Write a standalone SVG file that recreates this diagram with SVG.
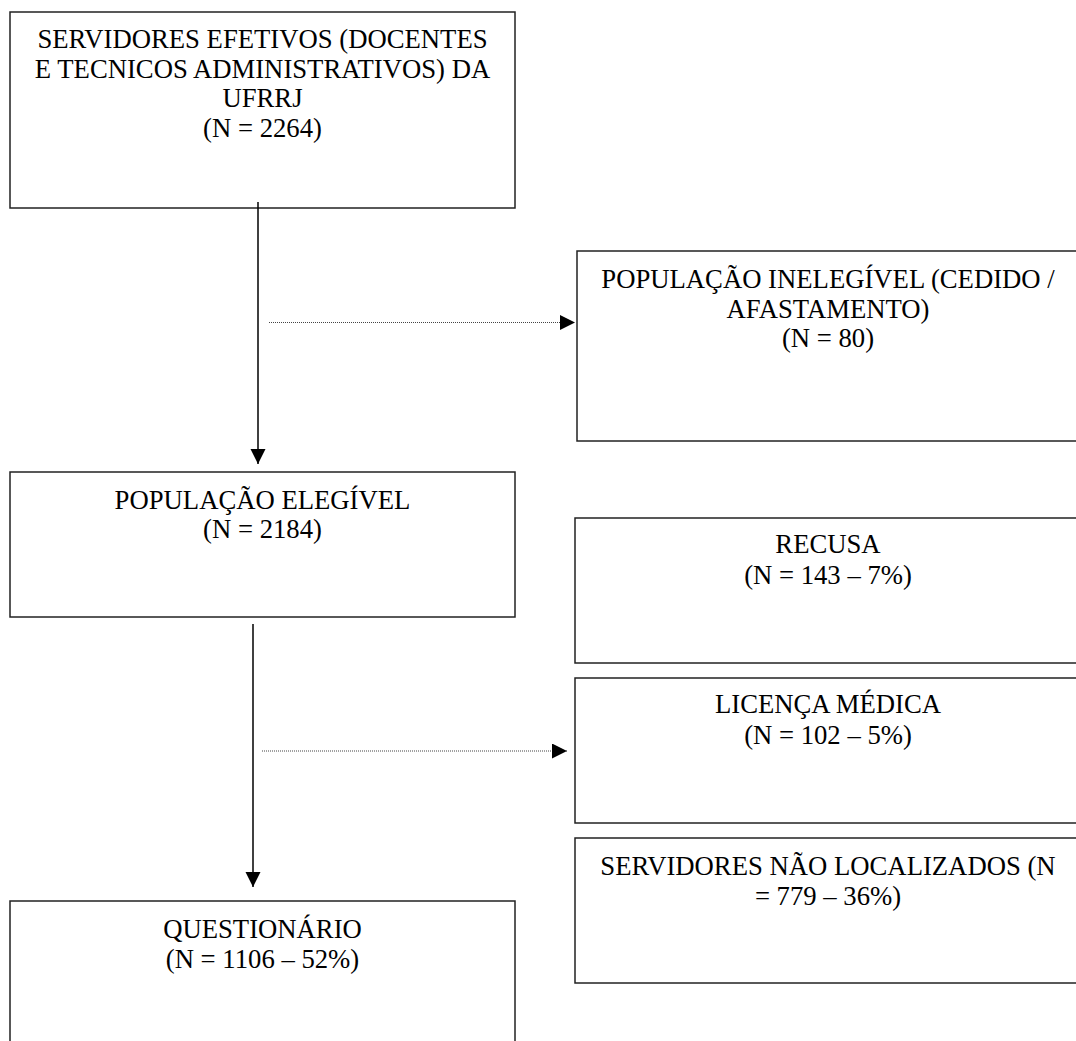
<svg xmlns="http://www.w3.org/2000/svg" width="1076" height="1041" viewBox="0 0 1076 1041">
<style>
.box{fill:#fff;stroke:#222;stroke-width:1.5}
.t{font-family:"Liberation Serif","Times New Roman",serif;font-size:26.7px;fill:#000;text-anchor:middle}
.solid{stroke:#000;stroke-width:1.5;fill:none}
.dot{stroke:#444;stroke-width:1.2;stroke-dasharray:1 1;fill:none}
</style>
<defs>
<marker id="ah" markerUnits="userSpaceOnUse" markerWidth="16" markerHeight="16" refX="15" refY="7.5" orient="auto">
<path d="M0,0 L15,7.5 L0,15 z" fill="#000"/>
</marker>
</defs>
<rect width="1076" height="1041" fill="#fff"/>
<g id="n1">
<rect class="box" x="10" y="12" width="505" height="196"/>
<text class="t" x="262.5" y="48">SERVIDORES EFETIVOS (DOCENTES</text>
<text class="t" x="262.5" y="77.5">E TECNICOS ADMINISTRATIVOS) DA</text>
<text class="t" x="262.5" y="107">UFRRJ</text>
<text class="t" x="262.5" y="136.5">(N = 2264)</text>
</g>
<g id="n2">
<rect class="box" x="577" y="251" width="510" height="190"/>
<text class="t" x="828" y="288">POPULAÇÃO INELEGÍVEL (CEDIDO /</text>
<text class="t" x="828" y="318">AFASTAMENTO)</text>
<text class="t" x="828" y="347">(N = 80)</text>
</g>
<g id="n3">
<rect class="box" x="10" y="472" width="505" height="145"/>
<text class="t" x="262.5" y="509">POPULAÇÃO ELEGÍVEL</text>
<text class="t" x="262.5" y="538">(N = 2184)</text>
</g>
<g id="n4">
<rect class="box" x="575" y="518" width="512" height="145"/>
<text class="t" x="828" y="553">RECUSA</text>
<text class="t" x="828" y="584">(N = 143 – 7%)</text>
</g>
<g id="n5">
<rect class="box" x="575" y="678" width="512" height="145"/>
<text class="t" x="828" y="713">LICENÇA MÉDICA</text>
<text class="t" x="828" y="744">(N = 102 – 5%)</text>
</g>
<g id="n6">
<rect class="box" x="575" y="838" width="512" height="145"/>
<text class="t" x="828" y="875">SERVIDORES NÃO LOCALIZADOS (N</text>
<text class="t" x="828" y="905">= 779 – 36%)</text>
</g>
<g id="n7">
<rect class="box" x="10" y="901" width="505" height="160"/>
<text class="t" x="262.5" y="938">QUESTIONÁRIO</text>
<text class="t" x="262.5" y="968">(N = 1106 – 52%)</text>
</g>
<g id="connectors">
<line class="solid" x1="258" y1="202" x2="258" y2="464" marker-end="url(#ah)"/>
<line class="dot" x1="269" y1="322.5" x2="575" y2="322.5" marker-end="url(#ah)"/>
<line class="solid" x1="253" y1="624" x2="253" y2="887" marker-end="url(#ah)"/>
<line class="dot" x1="262" y1="751" x2="567" y2="751" marker-end="url(#ah)"/>
</g>
</svg>
